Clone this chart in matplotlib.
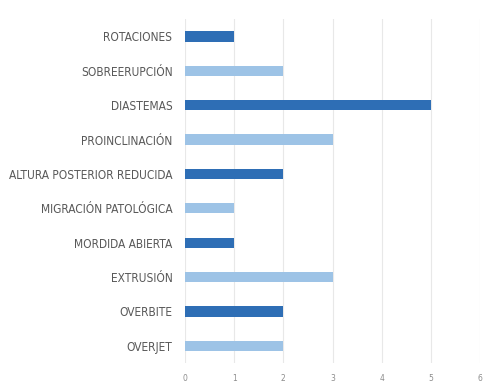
import matplotlib
matplotlib.use('Agg')
import matplotlib.pyplot as plt
from matplotlib import font_manager

# Data (bottom to top)
categories = ['OVERJET', 'OVERBITE', 'EXTRUSIÓN', 'MORDIDA ABIERTA',
              'MIGRACIÓN PATOLÓGICA', 'ALTURA POSTERIOR REDUCIDA',
              'PROINCLINACIÓN', 'DIASTEMAS', 'SOBREERUPCIÓN', 'ROTACIONES']
values = [2, 2, 3, 1, 1, 2, 3, 5, 2, 1]
x_ticks = [0, 1, 2, 3, 4, 5, 6]

dark = '#2E6EB5'
light = '#9DC3E6'
colors = [light if i % 2 == 0 else dark for i in range(len(values))]

# look for a condensed face, otherwise shrink the labels
condensed = [f for f in font_manager.fontManager.ttflist
             if f.name == 'DejaVu Sans' and f.stretch == 'condensed' and f.style == 'normal']
if condensed:
    label_font = dict(family='DejaVu Sans', stretch='condensed', size=8.6)
else:
    label_font = dict(family='DejaVu Sans', size=7.6)

fig = plt.figure(figsize=(4.84, 3.83), dpi=100)
ax = fig.add_axes([0.382, 0.052, 0.610, 0.898])

ax.barh(range(len(values)), values, height=0.3, color=colors, zorder=3)

ax.set_xlim(0, 6)
ax.set_ylim(-0.5, 9.5)
ax.set_xticks(x_ticks)
ax.set_yticks(range(len(categories)))
ax.set_yticklabels(categories, color='#595959', **label_font)
ax.tick_params(axis='x', labelsize=5.5, colors='#8c8c8c', length=0, pad=8)
ax.tick_params(axis='y', length=0, pad=9)
ax.grid(axis='x', color='#e8e8e8', linewidth=0.8, zorder=0)
for s in ax.spines.values():
    s.set_visible(False)

fig.savefig('out.png', dpi=100)
